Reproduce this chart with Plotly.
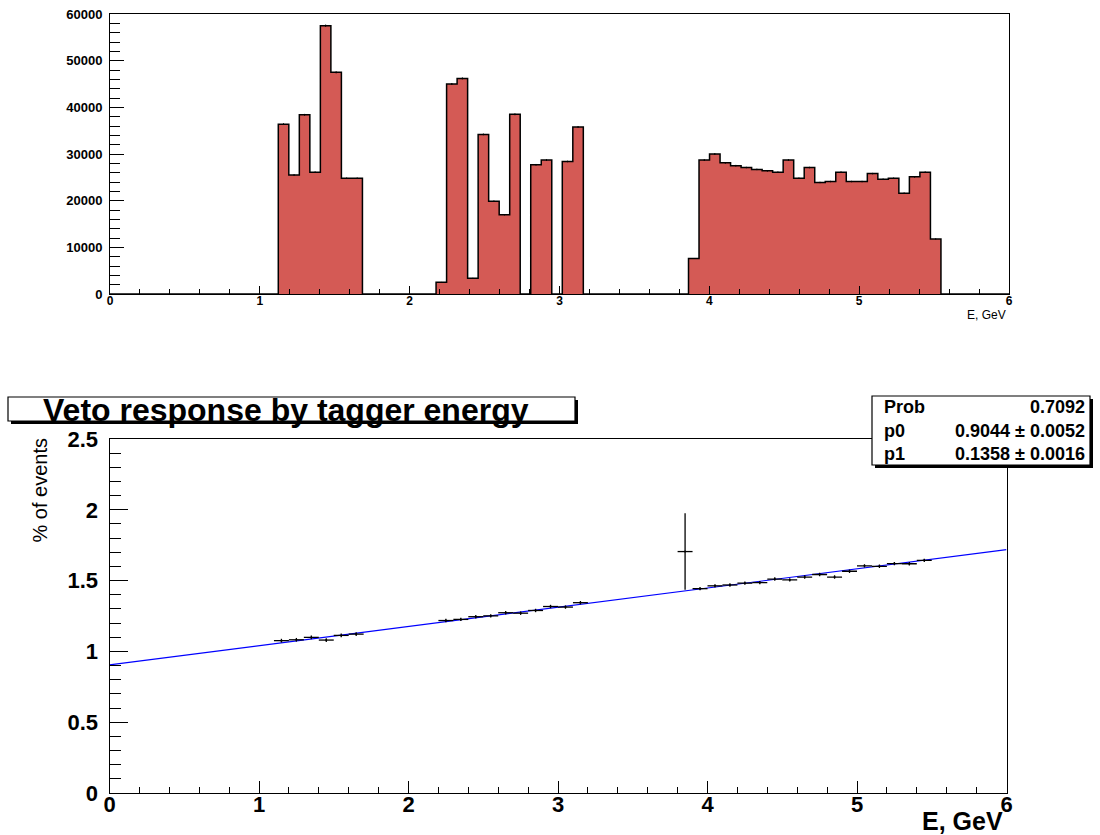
import math
import plotly.graph_objects as go

# ---------------- data ----------------
# upper histogram: tagger energy spectrum, uniform bins starting at 0
bin_width = 0.0702
hist_counts = (
    [0] * 16
    + [36400, 25500, 38400, 26100, 57500, 47500, 24800, 24800]            # bins 16-23
    + [0] * 7
    + [2500, 45000, 46200, 3400, 34200, 19900, 17000, 38500, 0,
       27700, 28700, 0, 28400, 35800]                                      # bins 31-44
    + [0] * 10
    + [7600, 28700, 30000, 28100, 27500, 27100, 26700, 26400, 26100, 28700,
       24800, 27100, 23900, 24100, 26100, 24100, 24100, 25800, 24600, 24800,
       21600, 25100, 26100, 11800]                                         # bins 55-78
    + [0] * 7
)

# lower plot: veto response per 0.1 GeV energy bin
resp_energy = [1.15, 1.25, 1.35, 1.45, 1.55, 1.65,
               2.25, 2.35, 2.45, 2.55, 2.65, 2.75, 2.85, 2.95, 3.05, 3.15,
               3.85,
               3.95, 4.05, 4.15, 4.25, 4.35, 4.45, 4.55, 4.65, 4.75, 4.85,
               4.95, 5.05, 5.15, 5.25, 5.35, 5.45]
resp_pct = [1.076, 1.082, 1.099, 1.080, 1.113, 1.122,
            1.218, 1.226, 1.245, 1.251, 1.273, 1.270, 1.289, 1.317, 1.313, 1.344,
            1.705,
            1.443, 1.463, 1.469, 1.482, 1.486, 1.511, 1.505, 1.525, 1.543, 1.525,
            1.566, 1.604, 1.601, 1.620, 1.619, 1.643]
resp_err = [0.013, 0.013, 0.013, 0.013, 0.013, 0.013,
            0.012, 0.012, 0.012, 0.012, 0.012, 0.012, 0.012, 0.012, 0.012, 0.012,
            0.270,
            0.012, 0.012, 0.012, 0.012, 0.012, 0.012, 0.012, 0.012, 0.012, 0.012,
            0.012, 0.012, 0.012, 0.012, 0.012, 0.012]
resp_half_width = 0.05

# linear fit result
fit_p0, fit_p0_err = 0.9044, 0.0052
fit_p1, fit_p1_err = 0.1358, 0.0016
fit_prob = 0.7092
x_range = [0, 6]

top_yticks = [0, 10000, 20000, 30000, 40000, 50000, 60000]
top_ytick_text = ["0", "10000", "20000", "30000", "40000", "50000", "60000"]
bot_yticks = [0, 0.5, 1, 1.5, 2, 2.5]
bot_ytick_text = ["0", "0.5", "1", "1.5", "2", "2.5"]
xticks = [0, 1, 2, 3, 4, 5, 6]

# ---------------- layout helpers ----------------
W, H = 1100, 835
def px(x):
    return x / W
def py(y):
    return 1 - y / H

FONT = "Liberation Sans, Arial, Helvetica, sans-serif"
RED = "#d45a55"

fig = go.Figure()

# histogram (filled step)
edges = [i * bin_width for i in range(len(hist_counts) + 1)]
fig.add_trace(go.Scatter(
    x=edges, y=hist_counts + [hist_counts[-1]],
    mode="lines", line=dict(shape="hv", color="black", width=1.5),
    fill="tozeroy", fillcolor=RED, xaxis="x", yaxis="y",
    hoverinfo="skip", showlegend=False))

# small statistical error marks on top of bins
centers = [(i + 0.5) * bin_width for i, c in enumerate(hist_counts) if c > 0]
nonzero = [c for c in hist_counts if c > 0]
fig.add_trace(go.Scatter(
    x=centers, y=nonzero, mode="markers",
    marker=dict(size=1, color="black"),
    error_y=dict(type="data", array=[math.sqrt(c) for c in nonzero],
                 color="black", thickness=1, width=0),
    xaxis="x", yaxis="y", hoverinfo="skip", showlegend=False))

# fit line
fig.add_trace(go.Scatter(
    x=x_range, y=[fit_p0 + fit_p1 * x for x in x_range],
    mode="lines", line=dict(color="#0000ff", width=1.2),
    xaxis="x2", yaxis="y2", hoverinfo="skip", showlegend=False))

# data points with errors
fig.add_trace(go.Scatter(
    x=resp_energy, y=resp_pct, mode="markers",
    marker=dict(size=2, color="black"),
    error_x=dict(type="constant", value=resp_half_width, color="black",
                 thickness=1.3, width=0),
    error_y=dict(type="data", array=resp_err, color="black",
                 thickness=1.3, width=0),
    xaxis="x2", yaxis="y2", hoverinfo="skip", showlegend=False))

top_xtickfont = dict(family=FONT, size=12, color="black", weight="bold")
top_ytickfont = dict(family=FONT, size=13, color="black", weight="bold")
bot_tickfont = dict(family=FONT, size=22, color="black", weight="bold")

common = dict(showgrid=False, zeroline=False, showline=True, linecolor="black",
              linewidth=1, mirror=True, tickcolor="black", tickwidth=1,
              ticks="inside", automargin=False, fixedrange=True)

fig.update_layout(
    width=W, height=H,
    margin=dict(l=0, r=0, t=0, b=0, pad=0, autoexpand=False),
    paper_bgcolor="white", plot_bgcolor="white",
    showlegend=False,
    xaxis=dict(domain=[px(110), px(1009)], anchor="y", range=x_range,
               tickvals=xticks, ticklen=8,
               tickfont=top_xtickfont, ticklabelstandoff=-4,
               minor=dict(dtick=0.2, ticks="inside", ticklen=5,
                          tickcolor="black", showgrid=False), **common),
    yaxis=dict(domain=[py(294), py(14)], anchor="x", range=[0, 60000],
               tickvals=top_yticks, ticktext=top_ytick_text, ticklen=14,
               tickfont=top_ytickfont, ticklabelstandoff=4,
               minor=dict(dtick=2000, ticks="inside", ticklen=10,
                          tickcolor="black", showgrid=False), **common),
    xaxis2=dict(domain=[px(109.5), px(1006.5)], anchor="y2", range=x_range,
                tickvals=xticks, ticklen=12,
                tickfont=bot_tickfont, ticklabelstandoff=-8,
                minor=dict(dtick=0.2, ticks="inside", ticklen=6,
                           tickcolor="black", showgrid=False), **common),
    yaxis2=dict(domain=[py(793), py(439)], anchor="x2", range=[0, 2.5],
                tickvals=bot_yticks, ticktext=bot_ytick_text, ticklen=18,
                tickfont=bot_tickfont, ticklabelstandoff=6,
                minor=dict(dtick=0.1, ticks="inside", ticklen=11,
                           tickcolor="black", showgrid=False), **common),
)

shapes = []
# title box (shadow + box)
shapes.append(dict(type="rect", xref="paper", yref="paper",
                   x0=px(11), x1=px(578), y0=py(424), y1=py(400),
                   fillcolor="black", line=dict(width=0), layer="above"))
shapes.append(dict(type="rect", xref="paper", yref="paper",
                   x0=px(8), x1=px(575), y0=py(421), y1=py(397),
                   fillcolor="white", line=dict(color="black", width=1.2),
                   layer="above"))
# stats box (shadow + box)
shapes.append(dict(type="rect", xref="paper", yref="paper",
                   x0=px(875), x1=px(1093), y0=py(468), y1=py(399),
                   fillcolor="black", line=dict(width=0), layer="above"))
shapes.append(dict(type="rect", xref="paper", yref="paper",
                   x0=px(872), x1=px(1090), y0=py(465), y1=py(396),
                   fillcolor="white", line=dict(color="black", width=1.2),
                   layer="above"))
fig.update_layout(shapes=shapes)

ann = []
ann.append(dict(text="Veto response by tagger energy", x=px(286), y=py(410),
                xref="paper", yref="paper", xanchor="center", yanchor="middle",
                showarrow=False,
                font=dict(family=FONT, size=32, color="black", weight="bold")))
stat_font = dict(family=FONT, size=18, color="black", weight="bold")
rows = [("Prob", f"{fit_prob:.4f}", 407),
        ("p0", f"{fit_p0:.4f} \u00b1 {fit_p0_err:.4f}", 431),
        ("p1", f"{fit_p1:.4f} \u00b1 {fit_p1_err:.4f}", 454)]
for lab, val, yy in rows:
    ann.append(dict(text=lab, x=px(882), y=py(yy), xref="paper", yref="paper",
                    xanchor="left", yanchor="middle", showarrow=False,
                    font=stat_font))
    ann.append(dict(text=val, x=px(1087), y=py(yy), xref="paper", yref="paper",
                    xanchor="right", yanchor="middle", showarrow=False,
                    font=stat_font))
ann.append(dict(text="E, GeV", x=px(1008), y=py(315), xref="paper", yref="paper",
                xanchor="right", yanchor="middle", showarrow=False,
                font=dict(family=FONT, size=12, color="black")))
ann.append(dict(text="E, GeV", x=px(1005), y=py(821), xref="paper", yref="paper",
                xanchor="right", yanchor="middle", showarrow=False,
                font=dict(family=FONT, size=25, color="black", weight="bold")))
ann.append(dict(text="% of events", x=px(39), y=py(436), xref="paper", yref="paper",
                xanchor="center", yanchor="top", textangle=-90, showarrow=False,
                font=dict(family=FONT, size=20, color="black")))
fig.update_layout(annotations=ann)

fig.write_html("out.html",
               config={"displayModeBar": False},
               post_script="document.body.style.margin='0';document.body.style.overflow='hidden';")
